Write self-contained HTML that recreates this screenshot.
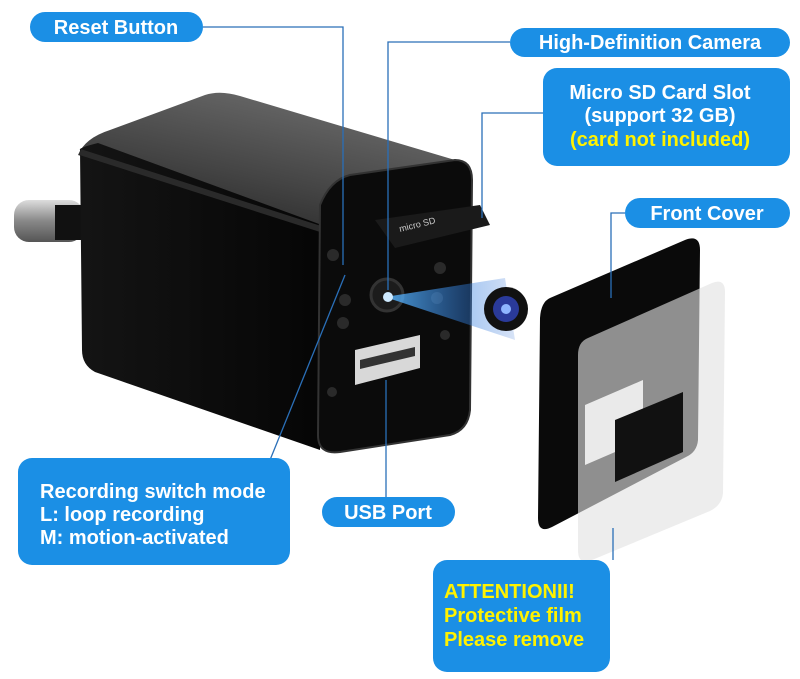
<!DOCTYPE html>
<html><head><style>
body{margin:0;background:#fff;width:800px;height:679px;overflow:hidden;font-family:"Liberation Sans",sans-serif}
svg{position:absolute;left:0;top:0}
.t{font-family:"Liberation Sans",sans-serif;font-weight:bold;fill:#fff}
.y{fill:#fff200}
</style></head><body>
<svg width="800" height="679" viewBox="0 0 800 679">
<defs>
<linearGradient id="top" x1="0" y1="1" x2="0.6" y2="0"><stop offset="0" stop-color="#1a1a1a"/><stop offset="0.5" stop-color="#444"/><stop offset="1" stop-color="#6a6a6a"/></linearGradient>
<linearGradient id="side" x1="0" y1="0" x2="1" y2="0"><stop offset="0" stop-color="#141414"/><stop offset="1" stop-color="#050505"/></linearGradient>
<linearGradient id="beam" x1="0" y1="0" x2="1" y2="0"><stop offset="0" stop-color="#5ab8ff"/><stop offset="1" stop-color="#1a5fd0" stop-opacity="0.2"/></linearGradient>
<linearGradient id="pin" x1="0" y1="0" x2="0" y2="1"><stop offset="0" stop-color="#ddd"/><stop offset="0.5" stop-color="#888"/><stop offset="1" stop-color="#555"/></linearGradient>
</defs>
<rect x="14" y="200" width="70" height="42" rx="15" fill="url(#pin)"/>
<rect x="55" y="205" width="30" height="35" fill="#111"/>
<path d="M78,155 Q85,138 110,130 L205,95 Q220,90 240,96 L455,160 Q470,168 468,182 L330,235 Q300,230 78,155 Z" fill="url(#top)"/>
<path d="M80,150 Q78,148 98,143 L330,228 L320,450 L95,372 Q82,365 82,350 Z" fill="url(#side)"/>
<path d="M80,152 L330,232" stroke="#2a2a2a" stroke-width="6"/>
<path d="M320,205 Q330,180 350,175 L455,160 Q472,160 472,180 L470,410 Q468,430 450,435 L340,452 Q318,455 318,435 Z" fill="#0b0b0b" stroke="#333" stroke-width="2"/>
<circle cx="333" cy="255" r="6" fill="#2a2a2a"/><circle cx="345" cy="300" r="6" fill="#2a2a2a"/>
<circle cx="343" cy="323" r="6" fill="#2a2a2a"/><circle cx="440" cy="268" r="6" fill="#2a2a2a"/>
<circle cx="437" cy="298" r="6" fill="#2a2a2a"/><circle cx="445" cy="335" r="5" fill="#2a2a2a"/>
<circle cx="332" cy="392" r="5" fill="#2a2a2a"/>
<circle cx="387" cy="295" r="16" fill="#1c1c1c" stroke="#333" stroke-width="3"/>
<polygon points="355,350 420,335 420,368 355,385" fill="#d8d8d8"/>
<polygon points="360,360 415,347 415,356 360,369" fill="#333"/>
<path d="M375,220 L480,205 L490,225 L395,248 Z" fill="#1a1a1a"/>
<text x="400" y="232" font-size="9" fill="#ccc" transform="rotate(-14 400 232)" font-family="Liberation Sans">micro SD</text>
<path d="M385,297 L505,278 L515,340 Z" fill="url(#beam)" opacity="0.85"/>
<circle cx="388" cy="297" r="5" fill="#cfeaff"/>
<circle cx="506" cy="309" r="22" fill="#111"/>
<circle cx="506" cy="309" r="13" fill="#2a3a9a"/>
<circle cx="506" cy="309" r="5" fill="#8fb5ff"/>
<path d="M550,298 L685,240 Q700,234 700,250 L698,440 Q697,452 686,457 L552,527 Q538,534 538,518 L540,318 Q541,302 550,298 Z" fill="#0a0a0a"/>
<path d="M588,338 L712,283 Q725,278 725,292 L723,493 Q722,505 710,511 L592,560 Q578,566 578,550 L578,355 Q578,342 588,338 Z" fill="#e2e2e2" opacity="0.62"/>
<polygon points="585,405 643,380 643,440 585,465" fill="#f4f4f4" opacity="0.9"/>
<polygon points="615,420 683,392 683,452 615,482" fill="#111"/>
<g stroke="#2a6fb8" stroke-width="1.3" fill="none">
<polyline points="203,27 343,27 343,265"/>
<polyline points="510,42 388,42 388,290"/>
<polyline points="543,113 482,113 482,218"/>
<polyline points="625,213 611,213 611,298"/>
<polyline points="270,460 345,275"/>
<polyline points="386,497 386,380"/>
<polyline points="613,560 613,528"/>
</g>
<rect x="30" y="12" width="173" height="30" rx="15" fill="#1b8fe5"/>
<text class="t" x="116" y="34" font-size="20" text-anchor="middle">Reset Button</text>
<rect x="510" y="28" width="280" height="29" rx="14.5" fill="#1b8fe5"/>
<text class="t" x="650" y="49" font-size="20" text-anchor="middle">High-Definition Camera</text>
<rect x="543" y="68" width="247" height="98" rx="14" fill="#1b8fe5"/>
<text class="t" x="660" y="99" font-size="20" text-anchor="middle">Micro SD Card Slot</text>
<text class="t" x="660" y="122" font-size="20" text-anchor="middle">(support 32 GB)</text>
<text class="t y" x="660" y="146" font-size="20" text-anchor="middle">(card not included)</text>
<rect x="625" y="198" width="165" height="30" rx="15" fill="#1b8fe5"/>
<text class="t" x="707" y="220" font-size="20" text-anchor="middle">Front Cover</text>
<rect x="18" y="458" width="272" height="107" rx="14" fill="#1b8fe5"/>
<text class="t" x="40" y="498" font-size="20">Recording switch mode</text>
<text class="t" x="40" y="521" font-size="20">L: loop recording</text>
<text class="t" x="40" y="544" font-size="20">M: motion-activated</text>
<rect x="322" y="497" width="133" height="30" rx="15" fill="#1b8fe5"/>
<text class="t" x="388" y="519" font-size="20" text-anchor="middle">USB Port</text>
<rect x="433" y="560" width="177" height="112" rx="14" fill="#1b8fe5"/>
<text class="t y" x="444" y="598" font-size="20">ATTENTIONII!</text>
<text class="t y" x="444" y="622" font-size="20">Protective film</text>
<text class="t y" x="444" y="646" font-size="20">Please remove</text>
</svg>
</body></html>
